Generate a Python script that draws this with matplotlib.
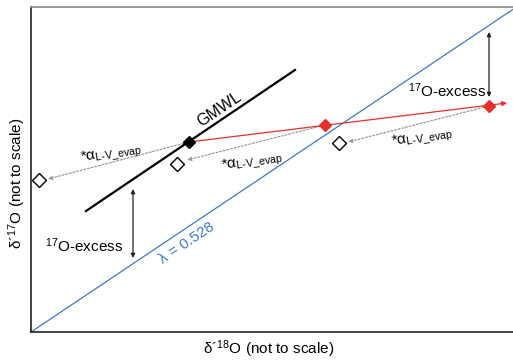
import matplotlib
matplotlib.use('Agg')
import matplotlib.pyplot as plt

plt.rcParams['font.family'] = ['Liberation Sans', 'DejaVu Sans']
plt.rcParams['mathtext.fontset'] = 'custom'
plt.rcParams['mathtext.rm'] = 'Liberation Sans'
plt.rcParams['mathtext.it'] = 'Liberation Sans:italic'
plt.rcParams['mathtext.default'] = 'regular'

# schematic coordinates (arbitrary units, not to scale)
ref_x = [0, 484]
ref_y = [0, 324]

gmwl_x = [55, 264]
gmwl_y = [121, 262]

start_pt = (158, 190)          # initial water on the GMWL
evap_x = [294, 458]            # evaporated waters
evap_y = [207, 226]
evap_end = (476, 229)

vapour_x = [8, 146, 308]       # vapour in equilibrium
vapour_y = [152, 168, 189]
vapour_tip_x = [17, 156, 317]
vapour_tip_y = [153, 172, 190]

excess_left = (102, 143, 74)   # x, top, bottom
excess_right = (458, 300, 235)

fig = plt.figure(figsize=(5.13, 3.6), dpi=100)
ax = fig.add_axes([31 / 513, 28 / 360, 484 / 513, 325 / 360])
ax.set_xlim(0, 484)
ax.set_ylim(0, 325)
ax.set_xticks([])
ax.set_yticks([])
ax.spines['right'].set_visible(False)
ax.spines['top'].set_color('#888888')
ax.spines['top'].set_linewidth(1.2)
ax.spines['left'].set_color('#222222')
ax.spines['bottom'].set_color('#222222')
ax.spines['left'].set_linewidth(1.2)
ax.spines['bottom'].set_linewidth(1.2)

# lambda = 0.528 reference line
ax.plot(ref_x, ref_y, color='#3a7cc4', lw=0.9, zorder=2)

# global meteoric water line
ax.plot(gmwl_x, gmwl_y, color='black', lw=1.6, zorder=3)

# evaporation trajectory
ax.annotate('', xy=evap_end, xytext=start_pt,
            arrowprops=dict(arrowstyle='-|>', color='#e8302a', lw=0.9,
                            mutation_scale=7, shrinkA=0, shrinkB=0), zorder=3)
ax.plot(evap_x, evap_y, 'D', color='#e8302a', ms=6.5, zorder=5)
ax.plot(*start_pt, 'D', color='black', ms=6.5, zorder=5)

# dotted arrows from liquid to vapour
liquids = [start_pt] + list(zip(evap_x, evap_y))
for (lx, ly), tx, ty in zip(liquids, vapour_tip_x, vapour_tip_y):
    ax.annotate('', xy=(tx, ty), xytext=(lx, ly),
                arrowprops=dict(arrowstyle='-|>', color='#999999', lw=0.9,
                                linestyle=(0, (1.5, 1.5)), mutation_scale=6,
                                shrinkA=4, shrinkB=0), zorder=2)
ax.plot(vapour_x, vapour_y, 'D', mfc='white', mec='black', mew=1.0, ms=7.5, zorder=5)

# 17O-excess arrows
for x, y0, y1 in [excess_left, excess_right]:
    ax.annotate('', xy=(x, y1), xytext=(x, y0),
                arrowprops=dict(arrowstyle='<|-|>', color='#222222', lw=0.9,
                                mutation_scale=6, shrinkA=0, shrinkB=0))

ax.text(53, 86, r'$^{17}$O-excess', fontsize=11, ha='center', va='center')
ax.text(416, 241, r'$^{17}$O-excess', fontsize=11, ha='center', va='center')

alpha_lbl = r'*$\alpha_{L\text{-}V\_evap}$'
ax.text(80, 178, alpha_lbl, fontsize=11, ha='center', va='center', rotation=9)
ax.text(221, 170, alpha_lbl, fontsize=11, ha='center', va='center', rotation=9)
ax.text(391, 194, alpha_lbl, fontsize=11, ha='center', va='center', rotation=9)

ax.text(188, 223, 'GMWL', fontsize=11.5, ha='center', va='center', rotation=34)
ax.text(156, 89, 'λ = 0.528', fontsize=11, color='#3a7cc4',
        ha='center', va='center', rotation=34)

ax.set_xlabel(r'δ´$^{18}$O (not to scale)', fontsize=11)
ax.set_ylabel(r'δ´$^{17}$O (not to scale)', fontsize=11)
ax.xaxis.set_label_coords(0.49, -0.052)
ax.yaxis.set_label_coords(-0.029, 0.458)
ax.xaxis.label.set_va('center')
ax.yaxis.label.set_va('center')

fig.savefig('out.png', dpi=100)
